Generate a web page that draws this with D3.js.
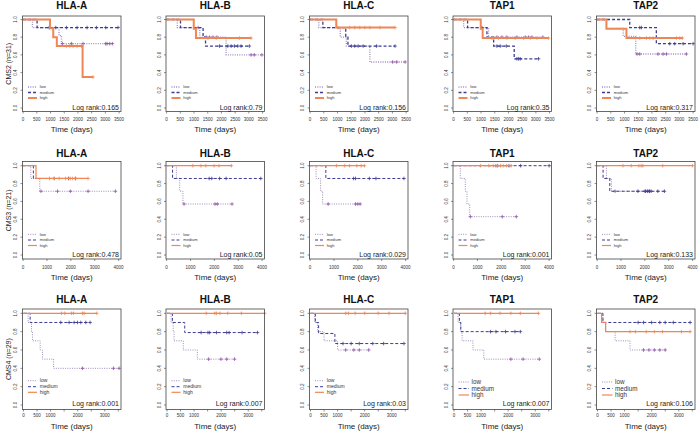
<!DOCTYPE html>
<html><head><meta charset="utf-8">
<script src="https://cdn.jsdelivr.net/npm/d3@7"></script>
<style>body{margin:0;background:#fff} svg{display:block} text{font-family:"Liberation Sans",Arial,sans-serif}</style>
</head><body><svg id="c" width="700" height="432"></svg>
<script>
// ---------------- DATA ----------------
const cohorts = ["CMS2 (n=31)", "CMS3 (n=21)", "CMS4 (n=29)"];
const genes = ["HLA-A", "HLA-B", "HLA-C", "TAP1", "TAP2"];
const groups = ["low", "medium", "high"];
const logRank = [
  ["0.165", "0.79", "0.156", "0.35", "0.317"],
  ["0.478", "0.05", "0.029", "0.001", "0.133"],
  ["0.001", "0.007", "0.03", "0.007", "0.106"]
];
const xTicks = [
  [0, 500, 1000, 1500, 2000, 2500, 3000, 3500],
  [0, 1000, 2000, 3000, 4000],
  [0, 500, 1000, 1500, 2000, 2500, 3000, 3500]
];
const xTickLabels = [
  [0, 500, 1000, 1500, 2000, 2500, 3000, 3500],
  [0, 1000, 2000, 3000, 4000],
  [0, 500, 1000, 2000, 3000]
];
const yTicks = [0, 0.2, 0.4, 0.6, 0.8, 1.0];

// each curve: ev = [time, survival after event], end = last follow-up, cens = censor times
const CMS2_HLA_A = {
  low:    {ev: [[340,0.909],[1310,0.818],[1400,0.727]], end: 3260, cens: [1434,1762,2187,3013,3062,3159,3256]},
  medium: {ev: [[510,0.909]], end: 3463, cens: [948,1190,1580,1968,2333,2673,3013,3463]},
  high:   {ev: [[980,0.9],[1100,0.8],[1230,0.7],[2170,0.35]], end: 2550, cens: [1580,1700,1822,1968,2126,2550]}
};
const CMS2_HLA_B = {
  low:    {ev: [[390,0.909],[1210,0.8],[2170,0.6]], end: 3476, cens: [1150,1448,1569,1690,1835,3078,3199,3476]},
  medium: {ev: [[507,0.909],[1330,0.8],[1420,0.7]], end: 3018, cens: [1931,2233,2354,2474,2595,2716,3018]},
  high:   {ev: [[990,0.895],[1070,0.79]], end: 3080, cens: [1509,1810,2655,3078]}
};
const CMS2_HLA_C = {
  low:    {ev: [[320,0.909],[1100,0.8],[1320,0.7],[2180,0.52]], end: 3480, cens: [3011,3158,3464]},
  medium: {ev: [[465,0.909],[1300,0.8],[1380,0.7]], end: 3097, cens: [1505,1628,1750,1934,2424,3097]},
  high:   {ev: [[955,0.909]], end: 3097, cens: [1016,1444,1628,1811,1995,2179,2546,3097]}
};
const CMS2_TAP1 = {
  low:    {ev: [[365,0.909],[1275,0.8]], end: 3256, cens: [1580,1762,1944,2309,2612,2734,2855,3256]},
  medium: {ev: [[510,0.909],[1215,0.8],[1460,0.7],[2210,0.556]], end: 3098, cens: [1033,1580,1701,1920,2309,2370,2430,3098]},
  high:   {ev: [[990,0.895],[1060,0.79]], end: 3463, cens: [1397,1640,1944,2248,2552,2795,3038,3463]}
};
const CMS2_TAP2 = {
  low:    {ev: [[340,0.9],[950,0.81],[1410,0.61]], end: 3256, cens: [1458,1555,2223,2406,2527,3256]},
  medium: {ev: [[1190,0.909],[2160,0.727]], end: 3500, cens: [1555,1616,2649,2831,3135,3500]},
  high:   {ev: [[340,0.895],[1070,0.79]], end: 3110, cens: [1555,1798,1920,2041,2892,3013,3110]}
};
const CMS3_HLA_A = {
  low:    {ev: [[323,0.857],[700,0.714]], end: 3866, cens: [750,1441,1980,2721,3866]},
  medium: {ev: [[430,0.857]], end: 2200, cens: [1300,1900,2200]},
  high:   {ev: [[540,0.857]], end: 2720, cens: [1105,1509,1778,1913,1980,2074,2182,2720]}
};
const CMS3_HLA_B = {
  low:    {ev: [[410,0.857],[550,0.714],[685,0.571]], end: 2740, cens: [730,2028,2124,2740]},
  medium: {ev: [[250,0.857]], end: 3945, cens: [1781,1891,2219,2493,3945]},
  high:   {ev: [], end: 2713, cens: [1096,1438,1644,1987,2192,2713]}
};
const CMS3_HLA_C = {
  low:    {ev: [[250,0.857],[440,0.714],[525,0.571]], end: 2096, cens: [758,1903,2000,2096]},
  medium: {ev: [[660,0.857]], end: 3930, cens: [1820,1903,2482,2758,3930]},
  high:   {ev: [], end: 2275, cens: [1103,1448,1655,1958,2138,2275]}
};
const CMS3_TAP1 = {
  low:    {ev: [[280,0.857],[490,0.714],[560,0.571],[675,0.429]], end: 2625, cens: [702,2036,2625]},
  medium: {ev: [], end: 4001, cens: [1825,2317,2808,4001]},
  high:   {ev: [], end: 2410, cens: [1123,1474,1657,1755,1853,1966,2078,2218,2410]}
};
const CMS3_TAP2 = {
  low:    {ev: [[390,0.857],[600,0.714]], end: 2200, cens: [750,2000,2100,2200]},
  medium: {ev: [[250,0.857],[530,0.714]], end: 2820, cens: [1708,2028,2125,2195,2264,2542,2820]},
  high:   {ev: [], end: 4000, cens: [1083,1431,1750,1847,1917,2750,4000]}
};
const CMS4_HLA_A = {
  low:    {ev: [[170,0.9],[295,0.8],[330,0.7],[615,0.6],[700,0.5],[1110,0.4]], end: 3530, cens: [2177,3321,3530]},
  medium: {ev: [[245,0.9]], end: 2460, cens: [1378,1685,1870,1993,2116,2300,2460]},
  high:   {ev: [], end: 2706, cens: [1402,1525,1771,1845,2177,2239,2706]}
};
const CMS4_HLA_B = {
  low:    {ev: [[150,0.9],[230,0.8],[260,0.7],[600,0.6],[1120,0.5]], end: 2495, cens: [1537,1991,2205,2495]},
  medium: {ev: [[200,0.9],[655,0.79]], end: 3339, cens: [1260,1512,1575,1827,2205,2293,2772,3339]},
  high:   {ev: [], end: 3604, cens: [1449,1764,1827,1953,2243,2747,3604]}
};
const CMS4_HLA_C = {
  low:    {ev: [[150,0.9],[260,0.8],[500,0.7],[1000,0.6]], end: 2150, cens: [1300,1600,1800,2150]},
  medium: {ev: [[180,0.9],[300,0.78],[900,0.67]], end: 3450, cens: [1200,1500,1800,2300,2700,3450]},
  high:   {ev: [], end: 3500, cens: [1300,1400,1650,2000,2500,2900,3500]}
};
const CMS4_TAP1 = {
  low:    {ev: [[150,0.9],[250,0.8],[300,0.7],[700,0.6],[1100,0.5]], end: 3150, cens: [2100,2550,3150]},
  medium: {ev: [[200,0.9],[250,0.8]], end: 2450, cens: [1350,1550,1900,2250,2450]},
  high:   {ev: [], end: 3120, cens: [1150,1350,1700,2100,2450,3120]}
};
const CMS4_TAP2 = {
  low:    {ev: [[200,0.9],[300,0.8],[650,0.7],[1200,0.6]], end: 2500, cens: [1700,1900,2100,2300,2500]},
  medium: {ev: [[200,0.9]], end: 3420, cens: [1500,1700,2000,2300,2500,2800,3420]},
  high:   {ev: [[150,0.9],[300,0.8]], end: 3420, cens: [1200,1400,1800,2100,2400,3100,3420]}
};
const panels = [
  [CMS2_HLA_A, CMS2_HLA_B, CMS2_HLA_C, CMS2_TAP1, CMS2_TAP2],
  [CMS3_HLA_A, CMS3_HLA_B, CMS3_HLA_C, CMS3_TAP1, CMS3_TAP2],
  [CMS4_HLA_A, CMS4_HLA_B, CMS4_HLA_C, CMS4_TAP1, CMS4_TAP2]
];

// ---------------- LAYOUT / STYLE ----------------
const rowsL = [
  {y1: 19.5, y0: 108, top: 16, bot: 111.5, xdom: [-22, 3570], title: 9, tickY: 121, labY: 132, lr: 110, leg: [-21, -15.5, -10], lfs: 4, lw: 1.3, hw: 2},
  {y1: 165.7, y0: 255, top: 161.5, bot: 259, xdom: [-25, 4100], title: 157, tickY: 268.5, labY: 280, lr: 257, leg: [-20.7, -15, -9.5], lfs: 4, lw: 1, hw: 1.2},
  {y1: 313.3, y0: 405, top: 309, bot: 409.5, xdom: [-37, 3600], title: 303, tickY: 416.5, labY: 429, lr: 405.5, leg: [-24.3, -18.3, -12.7], lfs: 5, lw: 1, hw: 1.2}
];
const colLeft = c => 22.5 + 143.5 * c;
const boxW = 98.5;
const colors = {low: "#a08cbc", medium: "#3c3c94", high: "#ef8656"};
const markColors = {low: "#9050a8", medium: "#3c3c94", high: "#ef8656"};
const dashes = {low: "1,1.3", medium: "3,2", high: null};

const svg = d3.select("#c");

panels.forEach((rowPanels, r) => {
  const L = rowsL[r];
  rowPanels.forEach((panel, c) => {
    const left = colLeft(c), right = left + boxW;
    const x = d3.scaleLinear().domain(L.xdom).range([left, right]);
    const y = d3.scaleLinear().domain([0, 1]).range([L.y0, L.y1]);
    const g = svg.append("g");

    // title
    g.append("text").attr("x", (left + right) / 2).attr("y", L.title)
      .attr("text-anchor", "middle").attr("font-size", 10).attr("font-weight", "bold")
      .attr("fill", "#111").text(genes[c]);

    // curves
    groups.forEach(gr => {
      const cv = panel[gr];
      const pts = [[0, 1]];
      let s = 1;
      cv.ev.forEach(([t, v]) => { pts.push([t, s]); pts.push([t, v]); s = v; });
      pts.push([cv.end, s]);
      const line = d3.line().x(d => x(d[0])).y(d => y(d[1]));
      g.append("path").attr("d", line(pts)).attr("fill", "none")
        .attr("stroke", colors[gr]).attr("stroke-width", gr === "high" ? L.hw : L.lw)
        .attr("stroke-dasharray", dashes[gr]);
      const survAt = t => { let v = 1; cv.ev.forEach(([te, sv]) => { if (te <= t) v = sv; }); return v; };
      cv.cens.forEach(t => {
        const px = x(t), py = y(survAt(t)), h = 1.8;
        g.append("path").attr("d", `M${px - h},${py}H${px + h}M${px},${py - h}V${py + h}`)
          .attr("stroke", markColors[gr]).attr("stroke-width", 0.8).attr("fill", "none");
      });
    });

    // box
    g.append("rect").attr("x", left).attr("y", L.top).attr("width", boxW).attr("height", L.bot - L.top)
      .attr("fill", "none").attr("stroke", "#444").attr("stroke-width", 0.8);

    // y ticks
    yTicks.forEach(v => {
      g.append("line").attr("x1", left).attr("x2", left - 2).attr("y1", y(v)).attr("y2", y(v))
        .attr("stroke", "#444").attr("stroke-width", 0.6);
      g.append("text").attr("transform", `translate(${left - 5.2},${y(v)}) rotate(-90)`)
        .attr("text-anchor", "middle").attr("font-size", 4.5).attr("fill", "#333")
        .text(d3.format(".1f")(v));
    });
    // x ticks
    xTicks[r].forEach(v => {
      g.append("line").attr("x1", x(v)).attr("x2", x(v)).attr("y1", L.bot).attr("y2", L.bot + 2)
        .attr("stroke", "#444").attr("stroke-width", 0.6);
    });
    xTickLabels[r].forEach(v => {
      g.append("text").attr("x", x(v)).attr("y", L.tickY).attr("text-anchor", "middle")
        .attr("font-size", 4.5).attr("fill", "#333").text(v);
    });
    g.append("text").attr("x", (left + right) / 2).attr("y", L.labY).attr("text-anchor", "middle")
      .attr("font-size", 8).attr("fill", "#222").text("Time (days)");

    // y label
    if (c === 0) {
      g.append("text").attr("transform", `translate(10.5,${(L.y1 + L.y0) / 2}) rotate(-90)`)
        .attr("text-anchor", "middle").attr("font-size", 7).attr("fill", "#222").text(cohorts[r]);
    }

    // legend
    const big = (r === 2 && c >= 3);
    const legDy = big ? [-23, -16.5, -10] : L.leg;
    const lfs = big ? 6.3 : L.lfs;
    groups.forEach((gr, i) => {
      const ly = L.y0 + legDy[i];
      g.append("line").attr("x1", left + 5.5).attr("x2", left + (big ? 16 : 14.5)).attr("y1", ly).attr("y2", ly)
        .attr("stroke", colors[gr]).attr("stroke-width", gr === "high" ? L.hw : L.lw)
        .attr("stroke-dasharray", dashes[gr]);
      g.append("text").attr("x", left + (big ? 18.5 : 17.3)).attr("y", ly + lfs * 0.35)
        .attr("font-size", lfs).attr("fill", "#333").text(gr);
    });

    // log rank
    g.append("text").attr("x", right - 2).attr("y", L.lr).attr("text-anchor", "end")
      .attr("font-size", 7).attr("fill", "#222").text("Log rank:" + logRank[r][c]);
  });
});
</script>
</body></html>
